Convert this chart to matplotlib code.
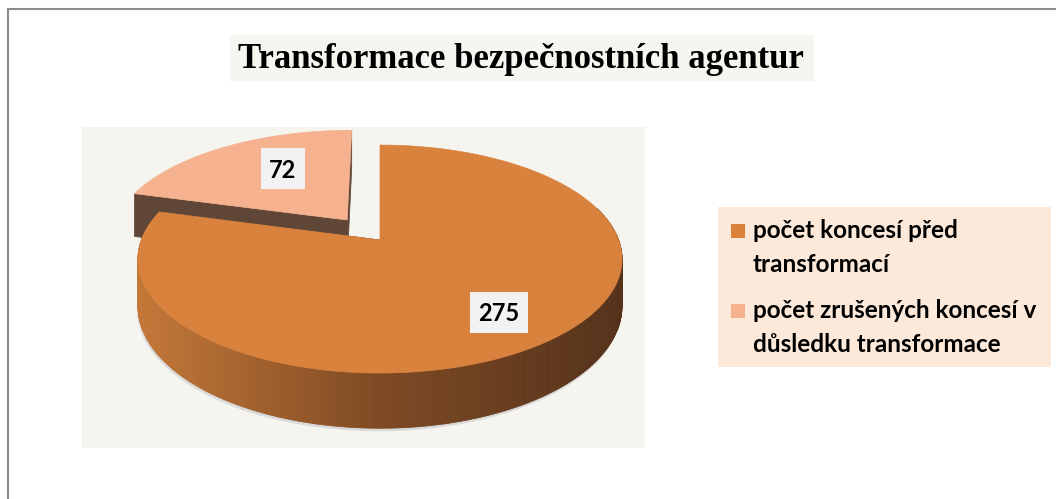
import numpy as np
import matplotlib.pyplot as plt
from matplotlib.patches import Polygon, Rectangle
from matplotlib.colors import LinearSegmentedColormap

# data
title = "Transformace bezpečnostních agentur"
labels = ["počet koncesí před\ntransformací",
          "počet zrušených koncesí v\ndůsledku transformace"]
values = [275, 72]
explode = [0.0, 0.234]

top_colors = ["#d9823e", "#f6b28e"]
cut_color = "#5f4637"
side_cmap = LinearSegmentedColormap.from_list(
    "side", ["#c47838", "#7e4a24", "#55321a"])

# figure in pixel coordinates
fig = plt.figure(figsize=(10.56, 4.99), dpi=100)
ax = fig.add_axes([0, 0, 1, 1])
ax.set_xlim(0, 1056)
ax.set_ylim(499, 0)
ax.axis("off")

# outer frame (top + left only visible)
ax.plot([7, 1056], [9, 9], color="#8c8c8c", lw=1.5, solid_capstyle="butt")
ax.plot([7.5, 7.5], [9, 499], color="#8c8c8c", lw=1.5, solid_capstyle="butt")

# title
ax.add_patch(Rectangle((230, 35), 584, 46, color="#f6f5f0", lw=0))
ax.text(521, 68, title, ha="center", va="baseline", fontsize=25,
        fontweight="bold", family="Liberation Serif")

# plot area
ax.add_patch(Rectangle((82, 127), 563, 321, color="#f5f4ef", lw=0))

# 3D pie with simple perspective
cx, cy = 380, 240
R, H = 238.6, 110.8
k = 0.167
depth = 46


def project(u, v):
    p = 1.0 / (1.0 + k * v)
    return cx + R * u * p, cy - H * v * p, p


total = float(sum(values))
starts = 90 - 360 * np.cumsum([0] + values[:-1]) / total
ends = 90 - 360 * np.cumsum(values) / total

# soft shadow below the front rim
ts = np.radians(np.linspace(180, 360, 200))
sx, sy, sp = project(np.cos(ts), np.sin(ts))
ax.add_patch(Polygon(np.column_stack([sx - 1, sy + depth * sp + 3]),
                     closed=True, color="#dadada", lw=0))

label_pos = []
# back slice first, then the big one
for i in [1, 0]:
    t0, t1 = np.radians(starts[i]), np.radians(ends[i])
    tm = 0.5 * (t0 + t1)
    ou, ov = explode[i] * np.cos(tm), explode[i] * np.sin(tm)
    t = np.linspace(t0, t1, 300)
    x, y, p = project(ou + np.cos(t), ov + np.sin(t))
    yb = y + depth * p
    ax0, ay0, ap = project(ou, ov)

    # radial cut faces
    for j in [0, -1]:
        quad = [(ax0, ay0), (x[j], y[j]), (x[j], yb[j]), (ax0, ay0 + depth * ap)]
        ax.add_patch(Polygon(quad, closed=True, color=cut_color, lw=0.5))

    # outer side, back to front
    v = ov + np.sin(t)
    segs = []
    for j in range(len(t) - 1):
        vm = 0.5 * (v[j] + v[j + 1])
        if vm > 0.3:
            continue
        segs.append((vm, j))
    segs.sort(key=lambda s: -s[0])
    for vm, j in segs:
        quad = [(x[j], y[j]), (x[j + 1], y[j + 1]),
                (x[j + 1], yb[j + 1]), (x[j], yb[j])]
        c = side_cmap(np.clip((0.5 * (x[j] + x[j + 1]) - 138) / 484, 0, 1))
        ax.add_patch(Polygon(quad, closed=True, facecolor=c, edgecolor=c,
                             lw=0.6))

    # top face
    top = np.vstack([[ax0, ay0], np.column_stack([x, y])])
    ax.add_patch(Polygon(top, closed=True, facecolor=top_colors[i],
                         edgecolor=top_colors[i], lw=0.5))

    r = 0.74 if i == 0 else 0.62
    lx, ly, _ = project(ou + r * np.cos(tm - 0.12 * i),
                        ov + r * np.sin(tm - 0.12 * i))
    label_pos.append((i, lx, ly))

# data labels
for i, lx, ly in label_pos:
    s = str(values[i])
    w = 14 * len(s) + 16
    ax.add_patch(Rectangle((lx - w / 2, ly - 20.5), w, 41,
                           color="#f2f2f2", lw=0))
    ax.text(lx, ly + 9, s, ha="center", va="baseline", fontsize=17,
            fontweight="bold", family="Lato", color="black")

# legend
ax.add_patch(Rectangle((718, 207), 333, 160, color="#fde9d9", lw=0))
for i, lab in enumerate(labels):
    base = 238 + 80 * i
    ax.add_patch(Rectangle((731, base - 14), 14, 14,
                           color=top_colors[i], lw=0))
    for n, line in enumerate(lab.split("\n")):
        ax.text(753, base + 34 * n, line, ha="left", va="baseline",
                fontsize=17.5, fontweight="bold", family="Lato")

fig.savefig("out.png", dpi=100)
